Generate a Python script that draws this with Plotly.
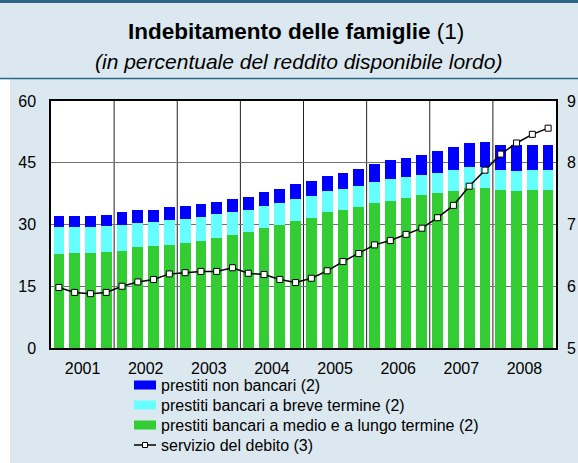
import plotly.graph_objects as go

# ---- data ----
quarters = list(range(32))  # 2001Q1 .. 2008Q4
years = ["2001", "2002", "2003", "2004", "2005", "2006", "2007", "2008"]
year_centers = [1.5, 5.5, 9.5, 13.5, 17.5, 21.5, 25.5, 29.5]
year_bounds = [3.5, 7.5, 11.5, 15.5, 19.5, 23.5, 27.5]

medio_lungo = [22.9, 23.1, 23.1, 23.4, 23.6, 24.6, 24.9, 25.1,
               25.5, 26.0, 26.8, 27.5, 28.2, 29.2, 29.9, 30.9,
               31.6, 33.1, 33.5, 34.3, 35.2, 35.7, 36.5, 37.2,
               37.7, 38.2, 38.9, 38.9, 38.4, 38.2, 38.4, 38.4]
breve = [6.5, 6.3, 6.3, 6.3, 6.3, 5.8, 5.7, 6.0,
         5.9, 5.9, 5.8, 5.6, 5.3, 5.3, 5.3, 5.3,
         5.3, 5.1, 5.1, 5.1, 5.1, 5.4, 5.1, 4.8,
         4.8, 5.0, 5.1, 5.1, 4.8, 4.8, 4.8, 4.8]
non_bancari = [2.7, 2.7, 2.7, 2.6, 3.2, 3.1, 2.9, 3.2,
               3.1, 3.1, 2.9, 3.1, 3.2, 3.4, 3.4, 3.7,
               3.7, 3.6, 3.9, 4.1, 4.4, 4.6, 4.6, 4.9,
               5.4, 5.6, 5.8, 6.0, 6.1, 6.3, 6.1, 6.1]
servizio = [5.98, 5.90, 5.88, 5.90, 6.00, 6.07, 6.11, 6.20,
            6.22, 6.24, 6.24, 6.30, 6.21, 6.19, 6.11, 6.06,
            6.13, 6.25, 6.40, 6.53, 6.67, 6.74, 6.84, 6.94,
            7.11, 7.31, 7.62, 7.88, 8.14, 8.32, 8.46, 8.56]

left_ticks = [0, 15, 30, 45, 60]
right_ticks = [5, 6, 7, 8, 9]

legend_labels = ["prestiti non bancari (2)",
                 "prestiti bancari a breve termine (2)",
                 "prestiti bancari a medio e a lungo termine (2)",
                 "servizio del debito (3)"]

# ---- styling ----
BG = "#dce8ef"
TEAL = "#2a6788"
C_NB, C_BR, C_ML = "#0000ff", "#66ffff", "#33cc33"
FONT = "Liberation Sans, Arial, sans-serif"
W, H = 578, 463
L, R, T, B = 51, 22, 101, 115
PW, PH = W - L - R, H - T - B


def px_x(px):
    return (px - L) / PW


def px_y(py):
    return (H - B - py) / PH


fig = go.Figure()
fig.add_trace(go.Bar(x=quarters, y=medio_lungo, name=legend_labels[2],
                     marker=dict(color=C_ML, line=dict(width=0))))
fig.add_trace(go.Bar(x=quarters, y=breve, name=legend_labels[1],
                     marker=dict(color=C_BR, line=dict(width=0))))
fig.add_trace(go.Bar(x=quarters, y=non_bancari, name=legend_labels[0],
                     marker=dict(color=C_NB, line=dict(width=0))))
fig.add_trace(go.Scatter(x=quarters, y=servizio, name=legend_labels[3], yaxis="y2",
                         mode="lines+markers",
                         line=dict(color="black", width=1.5),
                         marker=dict(symbol="square", size=6, color="white",
                                     line=dict(color="black", width=1))))

shapes = []
for xb in year_bounds:
    shapes.append(dict(type="line", xref="x", yref="paper", x0=xb, x1=xb, y0=0, y1=1,
                       line=dict(color="#222222", width=1), layer="below"))
# decorative panel elements
shapes.append(dict(type="line", xref="paper", yref="paper", x0=px_x(0), x1=px_x(W),
                   y0=px_y(1.5), y1=px_y(1.5), line=dict(color=TEAL, width=3)))
shapes.append(dict(type="line", xref="paper", yref="paper", x0=px_x(0), x1=px_x(W),
                   y0=px_y(78.5), y1=px_y(78.5), line=dict(color=TEAL, width=1.5)))
shapes.append(dict(type="rect", xref="paper", yref="paper", x0=px_x(0), x1=px_x(10),
                   y0=px_y(H), y1=px_y(79.5), fillcolor="white", line=dict(width=0), layer="below"))

annotations = [
    dict(text="<b>Indebitamento delle famiglie</b> (1)", xref="paper", yref="paper",
         x=px_x(296), y=px_y(31), xanchor="center", yanchor="middle", showarrow=False,
         font=dict(size=22.5, color="black", family=FONT)),
    dict(text="<i>(in percentuale del reddito disponibile lordo)</i>", xref="paper", yref="paper",
         x=px_x(298), y=px_y(62), xanchor="center", yanchor="middle", showarrow=False,
         font=dict(size=21, color="black", family=FONT)),
]

# legend (drawn as a key below the plot)
rows_y = [385, 405, 425, 445]
key_x0, key_x1 = 134, 156
for lab, col, ry in zip(legend_labels[:3], [C_NB, C_BR, C_ML], rows_y[:3]):
    shapes.append(dict(type="rect", xref="paper", yref="paper",
                       x0=px_x(key_x0), x1=px_x(key_x1), y0=px_y(ry + 4.5), y1=px_y(ry - 4.5),
                       fillcolor=col, line=dict(width=0)))
ry = rows_y[3]
shapes.append(dict(type="line", xref="paper", yref="paper", x0=px_x(key_x0), x1=px_x(key_x1),
                   y0=px_y(ry), y1=px_y(ry), line=dict(color="black", width=1.5)))
shapes.append(dict(type="rect", xref="paper", yref="paper", x0=px_x(142.5), x1=px_x(147.5),
                   y0=px_y(ry + 2.5), y1=px_y(ry - 2.5), fillcolor="white",
                   line=dict(color="black", width=1)))
for lab, ry in zip(legend_labels, rows_y):
    annotations.append(dict(text=lab, xref="paper", yref="paper", x=px_x(159), y=px_y(ry),
                            xanchor="left", yanchor="middle", showarrow=False,
                            font=dict(size=16, color="black", family=FONT)))

fig.update_layout(
    width=W, height=H,
    margin=dict(l=L, r=R, t=T, b=B, pad=0, autoexpand=False),
    paper_bgcolor=BG, plot_bgcolor="white",
    font=dict(family=FONT, size=16, color="black"),
    barmode="stack", bargap=0.32,
    showlegend=False,
    xaxis=dict(range=[-0.5, 31.5], tickvals=year_centers, ticktext=years,
               showgrid=False, zeroline=False, ticks="", showline=True, mirror=True,
               linecolor="black", linewidth=1.5, tickfont=dict(size=16),
               ticklabelstandoff=5, automargin=False),
    yaxis=dict(range=[0, 60], tickvals=left_ticks, showgrid=True, gridcolor="#707070",
               gridwidth=1, zeroline=False, ticks="", showline=True, mirror=True,
               linecolor="black", linewidth=1.5, ticklabelstandoff=10, tickfont=dict(size=16),
               automargin=False),
    yaxis2=dict(range=[5, 9], tickvals=right_ticks, overlaying="y", side="right",
                showgrid=False, zeroline=False, ticks="", showline=False,
                ticklabelstandoff=10, tickfont=dict(size=16), automargin=False),
    shapes=shapes, annotations=annotations,
)

fig.write_html("out.html", config={"displayModeBar": False},
               post_script="document.body.style.margin='0';document.body.style.padding='0';")
